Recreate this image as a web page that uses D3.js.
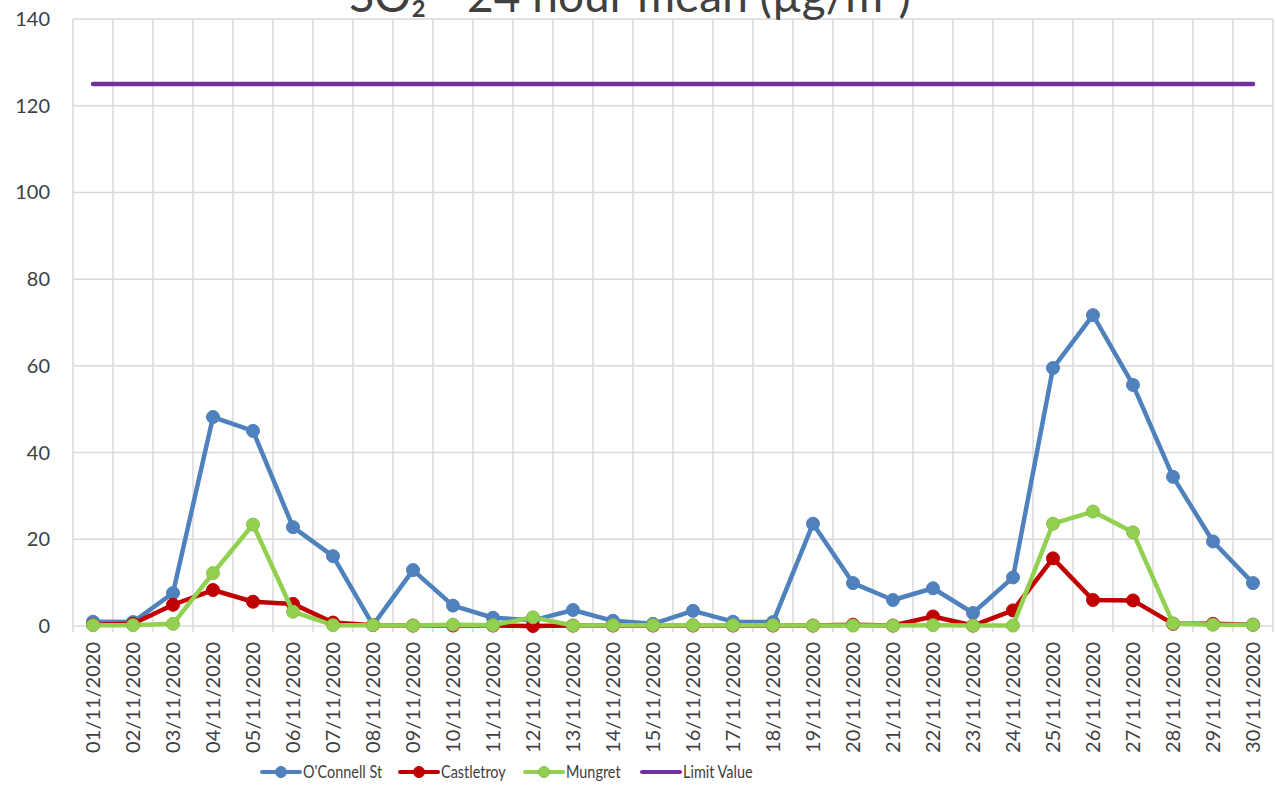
<!DOCTYPE html>
<html>
  <head>
    <meta http-equiv="Content-Type" content="text/html;charset=utf-8" />
    <title>SO2 - 24 hour mean</title>
    <style>
      body {
        margin: 0;
        background: #fff;
        font-family: Lato, "Open Sans", sans-serif;
      }
      .grid line {
        stroke: #d9d9d9;
        stroke-width: 1.5px;
      }
      .tick-label {
        font-size: 20px;
        fill: #404040;
      }
      path.series {
        fill: none;
        stroke-width: 4.5px;
        stroke-linejoin: round;
        stroke-linecap: round;
      }
      .legend text {
        font-size: 17px;
        fill: #404040;
      }
    </style>
    <script src="https://d3js.org/d3.v7.min.js"></script>
  </head>
  <body>
    <div id="chart"></div>
    <script type="text/javascript">
      const width = 1275,
        height = 787;
      const margin = { top: 19, right: 2, bottom: 161, left: 73 };

      // data
      const dates = [
        "01/11/2020", "02/11/2020", "03/11/2020", "04/11/2020", "05/11/2020",
        "06/11/2020", "07/11/2020", "08/11/2020", "09/11/2020", "10/11/2020",
        "11/11/2020", "12/11/2020", "13/11/2020", "14/11/2020", "15/11/2020",
        "16/11/2020", "17/11/2020", "18/11/2020", "19/11/2020", "20/11/2020",
        "21/11/2020", "22/11/2020", "23/11/2020", "24/11/2020", "25/11/2020",
        "26/11/2020", "27/11/2020", "28/11/2020", "29/11/2020", "30/11/2020"
      ];
      const oconnell = [
        1.0, 0.9, 7.6, 48.2, 45.0, 22.8, 16.1, 0.2, 12.9, 4.7,
        1.9, 1.3, 3.7, 1.2, 0.5, 3.5, 1.0, 0.9, 23.6, 9.9,
        6.0, 8.7, 3.0, 11.2, 59.5, 71.7, 55.6, 34.4, 19.5, 9.9
      ];
      const castletroy = [
        0.3, 0.5, 4.9, 8.3, 5.6, 5.1, 0.8, 0.2, 0.1, 0.1,
        0.1, 0.0, 0.1, 0.1, 0.1, 0.1, 0.1, 0.1, 0.1, 0.3,
        0.1, 2.2, 0.1, 3.6, 15.6, 6.0, 5.9, 0.5, 0.5, 0.3
      ];
      const mungret = [
        0.2, 0.2, 0.5, 12.2, 23.4, 3.3, 0.2, 0.2, 0.1, 0.3,
        0.2, 2.0, 0.1, 0.2, 0.2, 0.2, 0.2, 0.2, 0.1, 0.1,
        0.1, 0.2, 0.1, 0.1, 23.6, 26.4, 21.6, 0.6, 0.3, 0.3
      ];
      const limitValue = dates.map(() => 125);
      const yTicks = [0, 20, 40, 60, 80, 100, 120, 140];

      const series = [
        { name: "O'Connell St", values: oconnell, color: "#4f81bd", stroke: "#4f81bd", marker: true },
        { name: "Castletroy", values: castletroy, color: "#c00000", stroke: "#c00000", marker: true },
        { name: "Mungret", values: mungret, color: "#92d050", stroke: "#8fbc4f", marker: true },
        { name: "Limit Value", values: limitValue, color: "#7030a0", stroke: "#7030a0", marker: false }
      ];

      const innerW = width - margin.left - margin.right,
        innerH = height - margin.top - margin.bottom;

      const x = d3.scaleBand().domain(dates).range([0, innerW]).padding(0);
      const y = d3.scaleLinear().domain([0, 140]).range([innerH, 0]);

      const svg = d3
        .select("#chart")
        .append("svg")
        .attr("width", width)
        .attr("height", height);

      const g = svg
        .append("g")
        .attr("transform", "translate(" + margin.left + "," + margin.top + ")");

      //- grid
      const grid = g.append("g").attr("class", "grid");
      grid
        .selectAll("line.h")
        .data(yTicks)
        .enter()
        .append("line")
        .attr("x1", 0)
        .attr("x2", innerW)
        .attr("y1", (d) => y(d))
        .attr("y2", (d) => y(d));
      grid
        .selectAll("line.v")
        .data(d3.range(dates.length + 1))
        .enter()
        .append("line")
        .attr("x1", (i) => i * x.bandwidth())
        .attr("x2", (i) => i * x.bandwidth())
        .attr("y1", 0)
        .attr("y2", innerH + 6);

      //- y labels
      g.selectAll("text.ylab")
        .data(yTicks)
        .enter()
        .append("text")
        .attr("class", "tick-label")
        .attr("x", -23)
        .attr("y", (d) => y(d))
        .attr("dy", "0.35em")
        .style("text-anchor", "end")
        .text((d) => d);

      //- x labels, rotated
      g.selectAll("text.xlab")
        .data(dates)
        .enter()
        .append("text")
        .attr("class", "tick-label")
        .attr(
          "transform",
          (d) => "translate(" + (x(d) + x.bandwidth() / 2) + "," + (innerH + 16) + ") rotate(-90)"
        )
        .attr("dy", "0.35em")
        .style("text-anchor", "end")
        .text((d) => d);

      //- lines
      const line = d3
        .line()
        .x((d, i) => x(dates[i]) + x.bandwidth() / 2)
        .y((d) => y(d));

      series.forEach(function (s) {
        g.append("path")
          .datum(s.values)
          .attr("class", "series")
          .attr("d", line)
          .style("stroke", s.color);
        if (s.marker) {
          g.selectAll(null)
            .data(s.values)
            .enter()
            .append("circle")
            .attr("cx", (d, i) => x(dates[i]) + x.bandwidth() / 2)
            .attr("cy", (d) => y(d))
            .attr("r", 6.5)
            .style("fill", s.color)
            .style("stroke", s.stroke)
            .style("stroke-width", 1);
        }
      });

      //- title (cut off at the top like the original)
      svg
        .append("text")
        .attr("x", 630)
        .attr("y", 12)
        .style("text-anchor", "middle")
        .style("font-size", "46px")
        .style("fill", "#404040")
        .text("SO\u2082 - 24 hour mean (\u00b5g/m\u00b3)");

      //- legend
      const legendX = [262, 400, 525, 642];
      const legend = svg
        .append("g")
        .attr("class", "legend")
        .attr("transform", "translate(0,772)");
      const item = legend
        .selectAll("g")
        .data(series)
        .enter()
        .append("g")
        .attr("transform", (d, i) => "translate(" + legendX[i] + ",0)");
      item
        .append("line")
        .attr("x1", 0)
        .attr("x2", 38)
        .style("stroke", (d) => d.color)
        .style("stroke-width", 4)
        .style("stroke-linecap", "round");
      item
        .filter((d) => d.marker)
        .append("circle")
        .attr("cx", 19)
        .attr("r", 5.5)
        .style("fill", (d) => d.color)
        .style("stroke", (d) => d.stroke);
      // legend labels are narrow in the original, squeeze them a bit
      item
        .append("text")
        .attr("transform", "translate(41,0) scale(0.85,1)")
        .attr("dy", "0.35em")
        .text((d) => d.name);
    </script>
  </body>
</html>
